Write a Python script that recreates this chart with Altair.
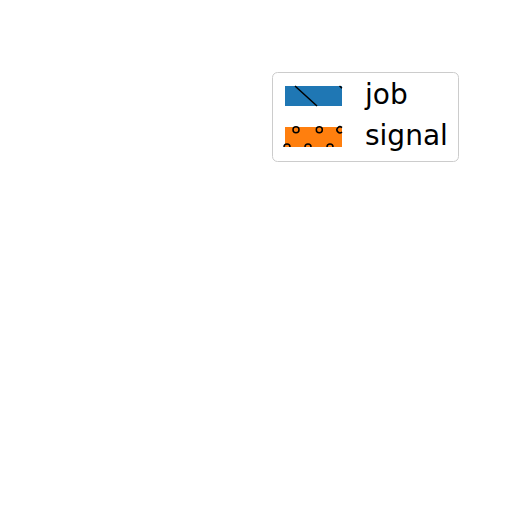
import altair as alt
import pandas as pd

categories = ["job", "signal"]
values = [0, 0]
colors = ["#1f77b4", "#ff7f0e"]
hatch_names = ["job hatch", "signal hatch"]

df = pd.DataFrame({"category": categories, "hatch": hatch_names, "value": values})

# legend swatch: wide rectangle; hatch overlays drawn in the same unit space
swatch = "M-1.1,-1H4.6V1H-1.1Z"
hatch_job = "M-0.1,-1L2.1,1M4.35,-1L4.6,-0.78"
ring = lambda x: f"M{x-0.3},-0.72A0.3,0.3 0 1 0 {x+0.3},-0.72A0.3,0.3 0 1 0 {x-0.3},-0.72"
half = lambda x: f"M{x-0.3},1A0.3,0.3 0 0 1 {x+0.3},1"
hatch_signal = (
    ring(0.0) + ring(2.33)
    + "M4.6,-0.94A0.3,0.3 0 1 0 4.6,-0.5"
    + half(-0.9) + half(1.2) + half(3.4)
)

common_legend = dict(
    title=None,
    orient="none",
    legendX=264,
    legendY=64,
    padding=10,
    symbolSize=400,
    symbolOpacity=1,
    labelFont="DejaVu Sans",
    labelFontSize=28,
    labelOffset=55,
)

base = alt.Chart(df).encode(
    x=alt.X("category:N", axis=None),
    y=alt.Y("value:Q", axis=None, scale=alt.Scale(domain=[0, 1])),
)

bars = base.mark_bar(strokeWidth=0).encode(
    color=alt.Color(
        "category:N",
        scale=alt.Scale(domain=categories, range=colors),
        legend=alt.Legend(
            fillColor="white",
            strokeColor="#cccccc",
            cornerRadius=5,
            symbolType=swatch,
            symbolStrokeWidth=0,
            labelColor="black",
            rowPadding=13,
            zindex=1,
            **common_legend,
        ),
    ),
)

hatches = base.mark_point(opacity=0, filled=False).encode(
    shape=alt.Shape(
        "hatch:N",
        scale=alt.Scale(domain=hatch_names, range=[hatch_job, hatch_signal]),
        legend=alt.Legend(
            symbolFillColor="transparent",
            symbolStrokeColor="black",
            symbolStrokeWidth=1.5,
            labelExpr="''",
            rowPadding=13,
            zindex=2,
            **common_legend,
        ),
    ),
)

chart = alt.layer(bars, hatches).properties(
    width=496, height=496, padding=0, autosize="none"
).configure_view(stroke=None)

chart.save("out.html", embed_options={"renderer": "svg", "actions": False})
